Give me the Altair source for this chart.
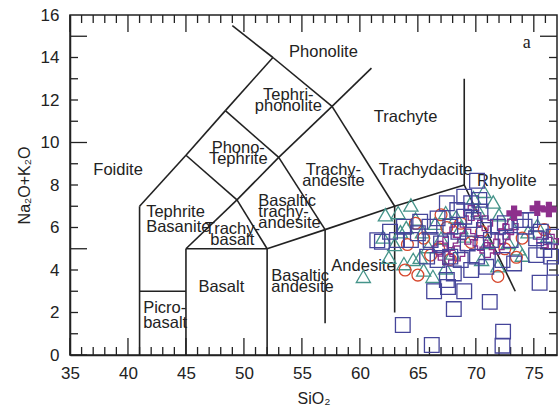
import altair as alt
import pandas as pd

W, H = 487, 340
FONT = "Liberation Sans"
LINE = "#222222"

xs = alt.Scale(domain=[35, 77], nice=False, zero=False)
ys = alt.Scale(domain=[0, 16], nice=False, zero=False)

# ---- TAS field boundaries (SiO2, Na2O+K2O) ----
seg_x1 = [41, 41, 45, 45, 52, 52, 57, 57, 63, 63, 69, 69, 41, 45, 48.4, 52.5, 45, 49.4, 53, 57.6, 49.4, 45, 48.4, 52.5, 53, 57.6]
seg_y1 = [0, 3, 0, 5, 0, 5, 1.5, 5.9, 2.0, 7, 8, 8, 7, 9.4, 11.5, 14, 5, 7.3, 9.3, 11.7, 7.3, 9.4, 11.5, 14, 9.3, 11.7]
seg_x2 = [41, 45, 45, 52, 52, 57, 57, 63, 63, 69, 69, 73.4, 45, 48.4, 52.5, 49, 49.4, 53, 57.6, 61, 52, 49.4, 53, 57.6, 57, 63]
seg_y2 = [7, 3, 5, 5, 5, 5.9, 5.9, 7, 7, 8, 13, 3.0, 9.4, 11.5, 14, 15.5, 7.3, 9.3, 11.7, 13.5, 5, 7.3, 9.3, 11.7, 5.9, 7]

# ---- field labels (y = first line) ----
lab_c_text = ["Foidite", "Phonolite", "Trachyte", "Trachydacite", "Rhyolite", "Basalt", "Andesite"]
lab_c_x = [39.15, 56.86, 63.94, 65.67, 72.67, 48.05, 60.31]
lab_c_y = [8.71, 14.26, 11.2, 8.71, 8.19, 3.2, 4.19]

lab_t_text = ["Tephri-\nphonolite", "Phono-\nTephrite", "Trachy-\nandesite", "Trachy-\nbasalt"]
lab_t_x = [53.83, 49.51, 57.72, 49.0]
lab_t_y = [12.24, 9.74, 8.71, 5.93]

lab_l_text = ["Basaltic\ntrachy-\nandesite", "Basaltic\nandesite"]
lab_l_x = [51.24, 52.36]
lab_l_y = [7.25, 3.72]

lab_w_text = ["Tephrite\nBasanite", "Picro-\nbasalt"]
lab_w_x = [41.57, 41.31]
lab_w_y = [6.73, 2.21]

# ---- samples ----
tri_x = [60.3, 62.0, 62.2, 63.3, 63.5, 64.4, 64.8, 65.2, 64.6, 66.3, 65.4, 65.9, 67.4, 68.3, 70.7, 69.8, 70.2, 71.0, 72.8, 73.7,
         75.3, 74.0, 71.9, 67.4, 68.7, 63.0, 64.0, 66.5, 69.0, 70.5, 72.0, 74.5, 76.2, 63.8, 65.5, 67.0, 68.0, 62.5, 71.5, 73.0]
tri_y = [3.7, 5.55, 6.6, 6.7, 5.8, 7.06, 6.4, 4.6, 4.5, 3.7, 5.8, 5.1, 6.7, 6.5, 7.7, 7.4, 6.8, 5.3, 5.3, 5.0,
         6.1, 4.7, 4.2, 4.1, 6.0, 5.2, 6.0, 6.2, 5.6, 4.5, 6.6, 5.8, 5.6, 4.3, 4.0, 5.5, 4.8, 4.6, 7.2, 6.2]

circ_x = [64.1, 65.0, 63.9, 66.1, 68.7, 71.9, 75.9, 69.6, 67.8, 67.5, 67.0, 65.5, 70.5, 72.5, 74.0, 66.8, 64.8, 73.5]
circ_y = [5.2, 3.76, 4.0, 4.7, 6.2, 3.7, 5.9, 5.3, 4.5, 6.0, 6.6, 5.5, 5.8, 5.0, 5.5, 5.0, 6.2, 4.6]

sq_x = [61.9, 62.6, 63.8, 65.0, 65.2, 66.0, 66.7, 67.0, 67.8, 68.5, 69.0, 69.6, 70.3, 70.4, 69.8, 69.3, 70.7, 71.3, 71.9, 72.5,
        73.0, 74.2, 74.7, 75.2, 75.9, 76.5, 75.2, 73.3, 72.3, 70.9, 69.6, 68.1, 67.5, 66.7, 65.8, 66.1, 64.4, 63.2, 68.4, 67.5,
        69.0, 73.9, 75.6, 76.7, 67.8, 68.7, 70.1, 63.7, 66.2, 72.35, 72.3, 71.2, 68.1, 69.0, 67.6, 75.5, 70.1, 61.5, 66.4, 76.8]
sq_y = [5.33, 5.8, 6.04, 5.73, 6.27, 6.04, 6.43, 5.25, 6.04, 5.8, 7.45, 7.14, 7.3, 6.75, 6.35, 5.25, 5.88, 5.41, 6.04, 6.2,
        5.41, 6.04, 6.35, 5.49, 4.94, 4.63, 4.7, 4.31, 4.47, 4.15, 4.0, 3.84, 3.53, 4.47, 4.63, 5.41, 5.41, 5.41, 6.82, 7.14,
        6.51, 6.35, 5.8, 5.57, 4.63, 4.47, 4.63, 1.41, 0.47, 1.1, 0.44, 2.5, 2.16, 3.0, 3.2, 3.4, 8.2, 5.4, 3.0, 4.1]

# open crosses (within the cluster) and filled crosses (top right)
cr_x = [76.5, 72.6, 72.3, 69.6, 67.8, 68.4, 67.4, 70.4, 69.3, 71.0, 73.0, 68.4, 75.9, 70.8, 66.9, 71.8]
cr_y = [5.33, 5.8, 5.57, 6.68, 5.4, 4.78, 4.6, 5.27, 5.57, 4.94, 6.04, 5.88, 5.4, 6.2, 5.0, 5.1]
crf_x = [73.3, 75.3, 76.3]
crf_y = [6.67, 6.9, 6.85]

# ---- axis ticks ----
x_major = [35, 40, 45, 50, 55, 60, 65, 70, 75]
x_minor = [v for v in range(36, 77) if v % 5 != 0]
y_major = [0, 5, 10, 15]
y_minor = [v for v in range(1, 16) if v % 5 != 0]
x_labels = [35, 40, 45, 50, 55, 60, 65, 70, 75]
y_labels = [0, 2, 4, 6, 8, 10, 12, 14, 16]

seg = pd.DataFrame({"x1": seg_x1, "y1": seg_y1, "x2": seg_x2, "y2": seg_y2})

base_axes = alt.Chart(pd.DataFrame({"x": [35], "y": [0]})).mark_point(opacity=0).encode(
    x=alt.X("x:Q", scale=xs, axis=alt.Axis(values=x_labels, format="d", title="SiO₂", ticks=False,
                                           grid=False, labelPadding=10, titlePadding=9, labelFlush=False)),
    y=alt.Y("y:Q", scale=ys, axis=alt.Axis(values=y_labels, format="d", title="Na₂O+K₂O", ticks=False,
                                           grid=False, labelPadding=11, titlePadding=8, labelFlush=False)),
)

lines = alt.Chart(seg).mark_rule(color=LINE, strokeWidth=1.6).encode(
    x=alt.X("x1:Q", scale=xs), y=alt.Y("y1:Q", scale=ys), x2="x2:Q", y2="y2:Q"
)

layers = [base_axes, lines]

def tick_layers(vals, length, side):
    df = pd.DataFrame({"v": vals})
    m = alt.Chart(df).mark_rule(color=LINE, strokeWidth=1.3)
    if side == "bottom":
        return m.encode(x=alt.X("v:Q", scale=xs), y=alt.value(H), y2=alt.value(H - length))
    if side == "top":
        return m.encode(x=alt.X("v:Q", scale=xs), y=alt.value(0), y2=alt.value(length))
    if side == "left":
        return m.encode(y=alt.Y("v:Q", scale=ys), x=alt.value(0), x2=alt.value(length))
    return m.encode(y=alt.Y("v:Q", scale=ys), x=alt.value(W), x2=alt.value(W - length))

for side in ["bottom", "top"]:
    layers.append(tick_layers(x_major, 17, side))
    layers.append(tick_layers(x_minor, 8, side))
for side in ["left", "right"]:
    layers.append(tick_layers(y_major, 17, side))
    layers.append(tick_layers(y_minor, 8, side))

def text_layer(texts, xv, yv, align, lh):
    df = pd.DataFrame({"t": texts, "x": xv, "y": yv})
    return alt.Chart(df).mark_text(font=FONT, fontSize=16.5, color="#222", align=align, baseline="middle",
                                   lineBreak="\n", lineHeight=lh).encode(
        x=alt.X("x:Q", scale=xs), y=alt.Y("y:Q", scale=ys), text="t:N")

layers.append(text_layer(lab_c_text, lab_c_x, lab_c_y, "center", 12))
layers.append(text_layer(lab_t_text, lab_t_x, lab_t_y, "center", 11))
layers.append(text_layer(lab_l_text, lab_l_x, lab_l_y, "left", 11))
layers.append(text_layer(lab_w_text, lab_w_x, lab_w_y, "left", 15))

layers.append(alt.Chart(pd.DataFrame({"t": ["a"], "x": [74.4], "y": [14.68]})).mark_text(
    font="Liberation Serif", fontSize=18, color="#222", baseline="middle").encode(
    x=alt.X("x:Q", scale=xs), y=alt.Y("y:Q", scale=ys), text="t:N"))

def pts(xv, yv, shape, color, size, filled):
    df = pd.DataFrame({"x": xv, "y": yv})
    if filled:
        mk = alt.Chart(df).mark_point(shape=shape, filled=True, color=color, size=size, opacity=1)
    else:
        mk = alt.Chart(df).mark_point(shape=shape, filled=False, color=color, size=size, strokeWidth=1.3, opacity=1)
    return mk.encode(x=alt.X("x:Q", scale=xs), y=alt.Y("y:Q", scale=ys))

layers.append(pts(tri_x, tri_y, "triangle-up", "#45948a", 200, False))
layers.append(pts(circ_x, circ_y, "circle", "#d6472c", 140, False))
layers.append(pts(cr_x, cr_y, "cross", "#8d2f8c", 220, False))
layers.append(pts(sq_x, sq_y, "square", "#45459a", 215, False))
layers.append(pts(crf_x, crf_y, "cross", "#8d2f8c", 240, True))

chart = alt.layer(*layers).properties(
    width=W, height=H,
    autosize=alt.AutoSizeParams(type="none"),
    padding={"left": 70, "top": 15, "right": 2, "bottom": 59},
).configure_view(stroke=LINE, strokeWidth=1.5).configure_axis(
    labelFont=FONT, labelFontSize=17, labelColor="#222", titleFont=FONT, titleFontSize=16,
    titleFontWeight="normal", titleColor="#222", domainColor=LINE, domainWidth=1.5, tickSize=0
)

chart.save("out.html", embed_options={"renderer": "svg", "actions": False})
